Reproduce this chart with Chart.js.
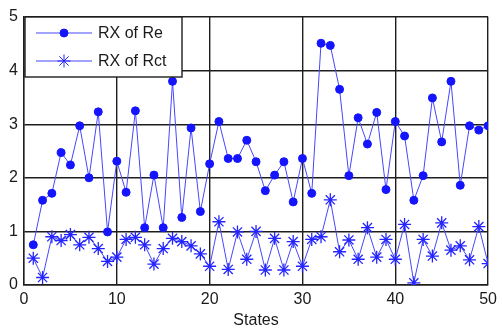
<!DOCTYPE html>
<html><head><meta charset="utf-8">
<script src="https://cdn.jsdelivr.net/npm/chart.js@4"></script>
<style>html,body{margin:0;padding:0;background:#fff}#wrap{width:502px;height:331px}</style>
</head><body><div id="wrap"><canvas id="c" width="502" height="331"></canvas></div>
<script>
const states = [1,2,3,4,5,6,7,8,9,10,11,12,13,14,15,16,17,18,19,20,21,22,23,24,25,26,27,28,29,30,31,32,33,34,35,36,37,38,39,40,41,42,43,44,45,46,47,48,49,50];
const rxRe = [0.75,1.58,1.71,2.47,2.24,2.97,2.0,3.23,0.99,2.31,1.73,3.25,1.07,2.05,1.07,3.8,1.26,2.93,1.37,2.26,3.05,2.36,2.36,2.7,2.3,1.76,2.05,2.3,1.55,2.36,1.71,4.51,4.47,3.65,2.04,3.12,2.63,3.22,1.78,3.05,2.78,1.58,2.04,3.49,2.67,3.8,1.86,2.97,2.89,2.97];
const rxRct = [0.5,0.14,0.9,0.83,0.94,0.75,0.89,0.68,0.44,0.52,0.85,0.89,0.75,0.39,0.68,0.87,0.81,0.73,0.58,0.35,1.18,0.29,0.99,0.48,1.0,0.28,0.87,0.28,0.81,0.35,0.85,0.9,1.59,0.62,0.84,0.48,1.07,0.52,0.85,0.48,1.13,0.04,0.85,0.54,1.16,0.65,0.73,0.47,1.09,0.4];
const seriesNames = ['RX of Re','RX of Rct'];
const xTicks = [0,10,20,30,40,50];
const yTicks = [0,1,2,3,4,5];
const xTitle = 'States';

const FONT = "'Liberation Sans', Arial, Helvetica, sans-serif";
const gridColor = '#1e1e1e';
const lineColor = '#4646ff';

const legendPlugin = {
  id: 'matlabLegend',
  afterDatasetsDraw(chart) {
    const ctx = chart.ctx, a = chart.chartArea;
    const x0 = a.left + 1, y0 = a.top, w = 157, h = 60;
    ctx.save();
    ctx.fillStyle = '#fff';
    ctx.fillRect(x0, y0, w, h);
    ctx.strokeStyle = gridColor; ctx.lineWidth = 1.4;
    ctx.strokeRect(x0, y0, w, h);
    chart.data.datasets.forEach((ds, i) => {
      const y = y0 + 16 + i * 28;
      ctx.strokeStyle = ds.borderColor; ctx.lineWidth = ds.borderWidth;
      ctx.beginPath(); ctx.moveTo(x0 + 11, y); ctx.lineTo(x0 + 67, y); ctx.stroke();
      ctx.fillStyle = ds.pointBackgroundColor; ctx.strokeStyle = ds.pointBorderColor;
      Chart.helpers.drawPoint(ctx, {pointStyle: ds.pointStyle, radius: ds.pointRadius, borderWidth: ds.pointBorderWidth, rotation: 0}, x0 + 39, y);
      ctx.fillStyle = '#1a1a1a';
      ctx.font = '16px ' + FONT;
      ctx.textBaseline = 'middle'; ctx.textAlign = 'left';
      ctx.fillText(ds.label, x0 + 73, y + 1);
    });
    ctx.restore();
  }
};

new Chart(document.getElementById('c'), {
  type: 'line',
  data: {
    datasets: [
      {
        label: seriesNames[0],
        data: states.map((s, i) => ({x: s, y: rxRe[i]})),
        borderColor: lineColor, borderWidth: 1,
        pointStyle: 'circle', pointRadius: 4, pointBorderWidth: 1,
        pointBackgroundColor: '#1414ff', pointBorderColor: '#1414ff',
        tension: 0, fill: false
      },
      {
        label: seriesNames[1],
        data: states.map((s, i) => ({x: s, y: rxRct[i]})),
        borderColor: lineColor, borderWidth: 1,
        pointStyle: 'star', pointRadius: 6.5, pointBorderWidth: 1.3,
        pointBackgroundColor: '#2424ff', pointBorderColor: '#2424ff',
        tension: 0, fill: false
      }
    ]
  },
  options: {
    responsive: false, animation: false, devicePixelRatio: 1,
    layout: {padding: {top: 17, right: 9, left: 0, bottom: 0}},
    plugins: {legend: {display: false}, tooltip: {enabled: false}},
    scales: {
      x: {
        type: 'linear', min: 0, max: 50,
        afterBuildTicks: s => { s.ticks = xTicks.map(v => ({value: v})); },
        afterFit: s => { s.height = 46; },
        grid: {color: gridColor, lineWidth: 1.4, drawTicks: false},
        border: {color: gridColor, width: 1.4},
        ticks: {padding: 5, color: '#1a1a1a', font: {family: FONT, size: 16}, maxRotation: 0},
        title: {display: true, text: xTitle, color: '#1a1a1a', font: {family: FONT, size: 16}, padding: {top: 0, bottom: 1}}
      },
      y: {
        type: 'linear', min: 0, max: 5,
        afterBuildTicks: s => { s.ticks = yTicks.map(v => ({value: v})); },
        afterFit: s => { s.width = 24; },
        grid: {color: gridColor, lineWidth: 1.4, drawTicks: false},
        border: {color: gridColor, width: 1.4},
        ticks: {padding: 6, color: '#1a1a1a', font: {family: FONT, size: 16}}
      }
    }
  },
  plugins: [legendPlugin]
});
</script>
</body></html>
